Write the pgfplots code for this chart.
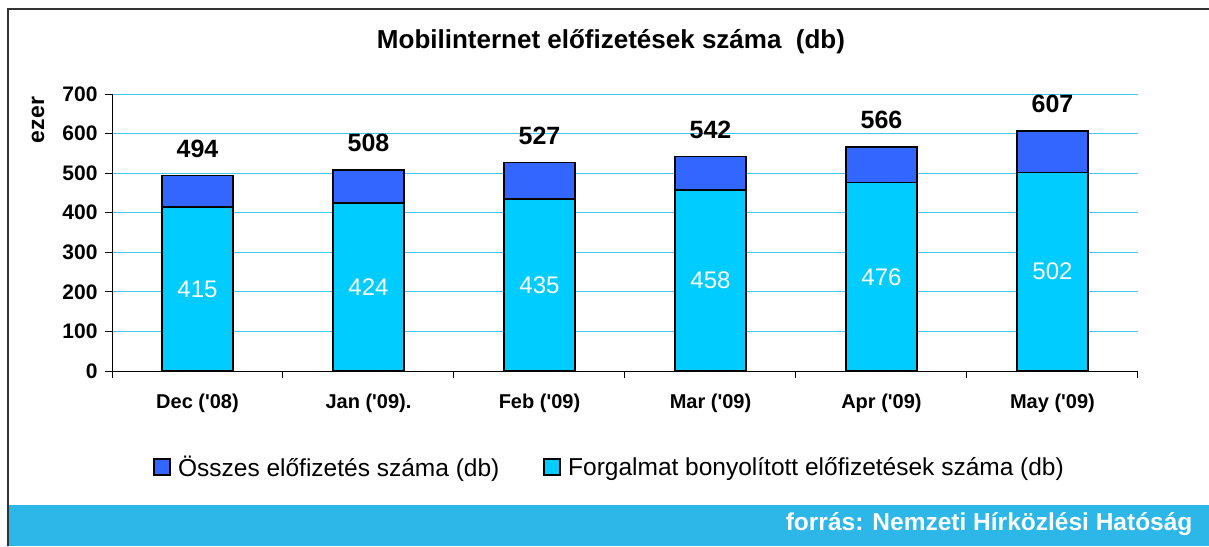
\documentclass[border=0pt]{standalone}
\usepackage{pgfplots}
\pgfplotsset{compat=1.18}
\usepackage{fontspec}
\setmainfont{Liberation Sans}
\definecolor{topbar}{HTML}{3366FF}
\definecolor{botbar}{HTML}{00CCFF}
\definecolor{gridc}{HTML}{40C8EE}
\definecolor{footer}{HTML}{2DB6E8}
\definecolor{framec}{HTML}{333333}
\pgfplotsset{
  sqlegend/.style={legend image code/.code={\draw[##1, draw=black, line width=1.5pt] (0pt,-8pt) rectangle (16pt,8pt); \path[draw=none, fill=none] (0pt,0pt) -- (22pt,0pt);}},
  geom/.style={at={(112pt,175pt)}, anchor=south west, scale only axis, width=1026pt, height=277pt,
    xmin=-0.5, xmax=5.5, ymin=0, ymax=700},
}
\begin{document}
\begin{tikzpicture}[x=1pt,y=1pt]
\useasboundingbox (0,0) rectangle (1209,546);
\fill[footer] (9,0) rectangle (1209,41);
\draw[framec, line width=2pt] (8,0) -- (8,537) -- (1209,537);
\node[anchor=base, font=\fontsize{26}{30}\selectfont\bfseries] at (611,497) {Mobilinternet előfizetések száma\ \ (db)};
\node[anchor=base east, text=white, font=\fontsize{24.5}{28}\selectfont\bfseries] at (1196,16) {forrás: Nemzeti Hírközlési Hatóság};

\begin{axis}[
  geom,
  ybar stacked, bar width=71pt,
  /pgf/number format/assume math mode=true,
  axis lines=left, axis line style={-, line width=1pt, black},
  tick align=outside,
  xtick={-0.5,0.5,...,5.5}, xticklabels={},
  extra x ticks={0,1,2,3,4,5},
  extra x tick labels={Dec (\textquotesingle08), Jan (\textquotesingle09)., Feb (\textquotesingle09), Mar (\textquotesingle09), Apr (\textquotesingle09), May (\textquotesingle09)},
  extra x tick style={major tick length=0pt, grid=none},
  ytick={0,100,...,700},
  major tick length=7pt,
  tick style={black, line width=1pt},
  ymajorgrids, grid style={gridc, line width=1pt},
  xticklabel style={yshift=-19pt, font=\fontsize{20}{24}\selectfont\bfseries},
  yticklabel style={xshift=-4pt, font=\fontsize{21}{25}\selectfont\bfseries},
  ylabel={ezer},
  ylabel style={at={(axis description cs:-0.072,0.906)}, anchor=center, rotate=0, font=\fontsize{23}{27}\selectfont\bfseries},
  legend columns=2, reverse legend,
  sqlegend,
  legend style={at={(axis description cs:0.485,-0.347)}, anchor=center, draw=none, fill=none,
    font=\fontsize{24.5}{28}\selectfont, /tikz/every even column/.append style={column sep=42pt}},
]
\addplot[fill=botbar, draw=black, line width=1.5pt, sqlegend] coordinates {(0,415) (1,424) (2,435) (3,458) (4,476) (5,502)};
\addlegendentry{Forgalmat bonyolított előfizetések száma (db)}
\addplot[fill=topbar, draw=black, line width=1.5pt, sqlegend]
  coordinates {(0,79) (1,84) (2,92) (3,84) (4,90) (5,105)};
\addlegendentry{Összes előfizetés száma (db)}
\end{axis}

\begin{axis}[geom, hide axis, /pgf/number format/assume math mode=true]
\addplot[draw=none, mark=none, nodes near coords, point meta=explicit,
  nodes near coords style={anchor=center, text=white, font=\fontsize{24}{28}\selectfont}]
  coordinates {(0,207.5) [415] (1,212) [424] (2,217.5) [435] (3,229) [458] (4,238) [476] (5,251) [502]};
\addplot[draw=none, mark=none, nodes near coords, point meta=explicit,
  nodes near coords style={anchor=south, inner sep=0pt, yshift=18pt, font=\fontsize{25}{29}\selectfont\bfseries}]
  coordinates {(0,494) [494] (1,508) [508] (2,527) [527] (3,542) [542] (4,566) [566] (5,607) [607]};
\end{axis}
\end{tikzpicture}
\end{document}
